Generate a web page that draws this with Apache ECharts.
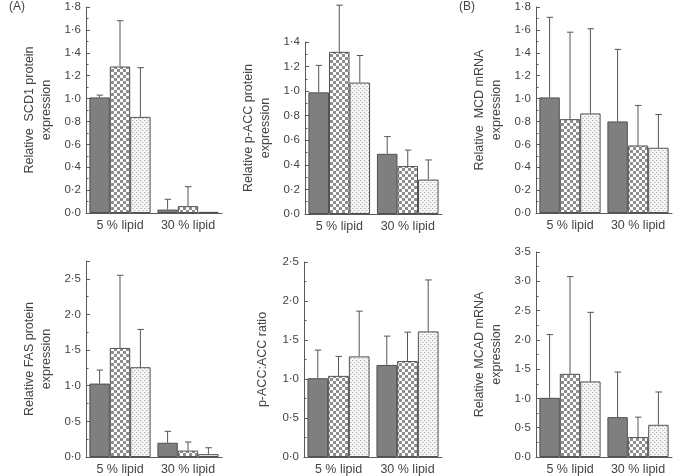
<!DOCTYPE html>
<html>
<head>
<meta charset="utf-8">
<script src="https://cdn.jsdelivr.net/npm/echarts@6/dist/echarts.min.js"></script>
<style>
html,body{margin:0;padding:0;background:#fff;}
#chart{width:677px;height:476px;}
</style>
</head>
<body>
<div id="chart"></div>
<script>
// ---------- data ----------
const categories = ['5 % lipid', '30 % lipid'];

// SCD1 protein (panel A, top-left)
const scd1Mean_g1 = [1.01, 0.03];
const scd1Sd_g1   = [0.02, 0.09];
const scd1Mean_g2 = [1.28, 0.06];
const scd1Sd_g2   = [0.40, 0.17];
const scd1Mean_g3 = [0.84, 0.01];
const scd1Sd_g3   = [0.43, 0];

// p-ACC protein (top-middle)
const paccMean_g1 = [0.99, 0.49];
const paccSd_g1   = [0.22, 0.14];
const paccMean_g2 = [1.32, 0.39];
const paccSd_g2   = [0.38, 0.13];
const paccMean_g3 = [1.07, 0.28];
const paccSd_g3   = [0.22, 0.16];

// MCD mRNA (panel B, top-right)
const mcdMean_g1 = [1.01, 0.80];
const mcdSd_g1   = [0.70, 0.63];
const mcdMean_g2 = [0.82, 0.59];
const mcdSd_g2   = [0.76, 0.35];
const mcdMean_g3 = [0.87, 0.57];
const mcdSd_g3   = [0.74, 0.29];

// FAS protein (bottom-left)
const fasMean_g1 = [1.03, 0.20];
const fasSd_g1   = [0.19, 0.16];
const fasMean_g2 = [1.53, 0.09];
const fasSd_g2   = [1.02, 0.12];
const fasMean_g3 = [1.26, 0.04];
const fasSd_g3   = [0.53, 0.09];

// p-ACC:ACC ratio (bottom-middle)
const ratioMean_g1 = [1.01, 1.18];
const ratioSd_g1   = [0.36, 0.37];
const ratioMean_g2 = [1.04, 1.23];
const ratioSd_g2   = [0.25, 0.37];
const ratioMean_g3 = [1.29, 1.61];
const ratioSd_g3   = [0.58, 0.66];

// MCAD mRNA (bottom-right)
const mcadMean_g1 = [1.01, 0.68];
const mcadSd_g1   = [1.08, 0.77];
const mcadMean_g2 = [1.42, 0.34];
const mcadSd_g2   = [1.66, 0.34];
const mcadMean_g3 = [1.29, 0.55];
const mcadSd_g3   = [1.18, 0.56];

// tick settings per panel
const yMax      = [1.8, 1.4, 1.8, 2.75, 2.5, 3.5];
const yInterval = [0.2, 0.2, 0.2, 0.5, 0.5, 0.5];
const yTitles = [
  'Relative  SCD1 protein\nexpression',
  'Relative p-ACC protein\nexpression',
  'Relative  MCD mRNA\nexpression',
  'Relative FAS protein\nexpression',
  'p-ACC:ACC ratio',
  'Relative MCAD mRNA\nexpression'
];

const panels = [
  {means:[scd1Mean_g1, scd1Mean_g2, scd1Mean_g3], sds:[scd1Sd_g1, scd1Sd_g2, scd1Sd_g3]},
  {means:[paccMean_g1, paccMean_g2, paccMean_g3], sds:[paccSd_g1, paccSd_g2, paccSd_g3]},
  {means:[mcdMean_g1, mcdMean_g2, mcdMean_g3], sds:[mcdSd_g1, mcdSd_g2, mcdSd_g3]},
  {means:[fasMean_g1, fasMean_g2, fasMean_g3], sds:[fasSd_g1, fasSd_g2, fasSd_g3]},
  {means:[ratioMean_g1, ratioMean_g2, ratioMean_g3], sds:[ratioSd_g1, ratioSd_g2, ratioSd_g3]},
  {means:[mcadMean_g1, mcadMean_g2, mcadMean_g3], sds:[mcadSd_g1, mcadSd_g2, mcadSd_g3]}
];

// ---------- layout ----------
const grids = [
  {left:86,  top:7,   width:136, height:206},
  {left:305, top:42,  width:137, height:172},
  {left:536, top:7,   width:136, height:206},
  {left:86,  top:261, width:136, height:197},
  {left:304, top:262, width:138, height:196},
  {left:536, top:252, width:136, height:206}
];
const nameGaps = [31, 31, 31, 31, 33, 31];

// ---------- patterns ----------
function makeChecker(){
  const c = document.createElement('canvas');
  c.width = 6; c.height = 6;
  const g = c.getContext('2d');
  g.fillStyle = '#ffffff'; g.fillRect(0,0,6,6);
  g.fillStyle = '#8e8e8e';
  g.fillRect(0,0,3,3); g.fillRect(3,3,3,3);
  return c;
}
function makeDots(){
  const c = document.createElement('canvas');
  c.width = 4; c.height = 4;
  const g = c.getContext('2d');
  g.fillStyle = '#f6f6f6'; g.fillRect(0,0,4,4);
  g.fillStyle = '#b4b4b4';
  g.fillRect(0,0,1,1); g.fillRect(2,2,1,1);
  g.fillStyle = '#d8d8d8';
  g.fillRect(1,0,1,1); g.fillRect(3,2,1,1);
  return c;
}
const fills = [
  '#7f7f7f',
  {image: makeChecker(), repeat: 'repeat'},
  {image: makeDots(), repeat: 'repeat'}
];

const textColor = '#444444';
const lineColor = '#5a5a5a';
const fontFam = 'Liberation Sans, Arial, sans-serif';

function fmt(v){
  return v.toFixed(1).replace('.', '\u00b7');
}

const option = {
  animation: false,
  backgroundColor: '#ffffff',
  textStyle: {fontFamily: fontFam},
  graphic: [
    {type:'text', left:9, top:1, style:{text:'(A)', fontSize:12, fill:textColor, fontFamily:fontFam}},
    {type:'text', left:459, top:1, style:{text:'(B)', fontSize:12, fill:textColor, fontFamily:fontFam}}
  ],
  grid: grids,
  xAxis: grids.map((g, i) => ({
    type: 'category',
    gridIndex: i,
    data: categories,
    axisLine: {lineStyle: {color: lineColor, width: 1}},
    axisTick: {show: false},
    axisLabel: {color: textColor, fontSize: 12.5, margin: 6, interval: 0, hideOverlap: false}
  })),
  yAxis: grids.map((g, i) => ({
    type: 'value',
    gridIndex: i,
    min: 0,
    max: yMax[i],
    interval: yInterval[i],
    name: yTitles[i],
    nameLocation: 'middle',
    nameGap: nameGaps[i],
    nameTextStyle: {color: textColor, fontSize: 12.5, lineHeight: 17},
    splitLine: {show: false},
    axisLine: {show: true, lineStyle: {color: lineColor, width: 1}},
    axisTick: {show: true, inside: true, length: 4, lineStyle: {color: lineColor}},
    minorTick: {show: true, splitNumber: 2, length: 2.5, lineStyle: {color: lineColor}},
    axisLabel: {
      color: textColor, fontSize: 11.5, margin: 5,
      showMaxLabel: (i === 3) ? false : true,
      formatter: fmt
    }
  })),
  series: []
};

panels.forEach((p, pi) => {
  for (let k = 0; k < 3; k++) {
    option.series.push({
      type: 'bar',
      xAxisIndex: pi, yAxisIndex: pi,
      data: p.means[k],
      barGap: '0%',
      barCategoryGap: '10%',
      itemStyle: {color: fills[k], borderColor: '#505050', borderWidth: 1},
      z: 2
    });
  }
  for (let k = 0; k < 3; k++) {
    const data = categories.map((c, ci) => [ci, p.means[k][ci], p.sds[k][ci]]);
    option.series.push({
      type: 'custom',
      xAxisIndex: pi, yAxisIndex: pi,
      clip: false,
      z: 5,
      silent: true,
      data: data,
      encode: {x: 0, y: 1},
      renderItem: function(params, api){
        const ci = api.value(0);
        const m = api.value(1);
        const s = api.value(2);
        if (!s) return null;
        const base = api.coord([ci, m]);
        const top = api.coord([ci, m + s]);
        const band = api.size([1, 0])[0];
        const bw = band * 0.9 / 3;
        const cx = base[0] + (k - 1) * bw;
        const style = {stroke: '#555555', lineWidth: 1};
        return {
          type: 'group',
          children: [
            {type:'line', shape:{x1:cx, y1:base[1], x2:cx, y2:top[1]}, style: style},
            {type:'line', shape:{x1:cx - 3, y1:top[1], x2:cx + 3.5, y2:top[1]}, style: style}
          ]
        };
      }
    });
  }
});

const chart = echarts.init(document.getElementById('chart'), null, {renderer: 'canvas'});
chart.setOption(option);
</script>
</body>
</html>
